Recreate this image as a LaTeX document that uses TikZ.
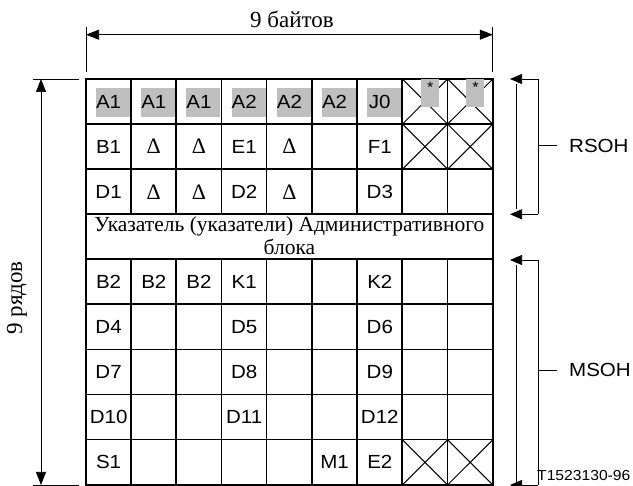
\documentclass[tikz,border=0pt]{standalone}
\usepackage{fontspec}
\setmainfont{Liberation Serif}
\setsansfont{Liberation Sans}[FakeStretch=1.08]
\usetikzlibrary{arrows.meta, positioning, calc}

\newcommand{\dlt}{{\rmfamily\fontsize{22}{22}\selectfont Δ}}

\begin{document}
\begin{tikzpicture}[x=1pt, y=-1pt,
    cell/.style={minimum width=45.2pt, minimum height=45.1pt, inner sep=0pt,
        font=\sffamily\fontsize{19}{19}\selectfont},
    rule/.style={line width=1.7pt},
    xline/.style={draw=black, line width=1pt},
    shade/.style={fill=black!25},
    dim/.style={line width=0.7pt, {Triangle[length=13pt,width=10pt]}-{Triangle[length=13pt,width=10pt]}},
    brk/.style={line width=0.7pt},
    tip/.style={line width=0.7pt, -{Triangle[length=12pt,width=10pt]}},
    serif/.style={font=\rmfamily\fontsize{23}{23}\selectfont, inner sep=0pt},
    side/.style={font=\sffamily\fontsize{19}{19}\selectfont, anchor=west, inner sep=0pt}]
    \useasboundingbox (0,0) rectangle (633,486);

    \foreach \c in {1,...,9}
        \foreach \r in {1,...,9}
            \coordinate (p\r-\c) at (86+45.2*\c-22.6, 79+45.1*\r-22.55);

    \foreach \c in {1,...,7}
        \fill[shade] ($(p1-\c)+(-12.6,-13.55)$) rectangle ++(34,29);

    \foreach \row [count=\r] in {
        {A1,A1,A1,A2,A2,A2,J0,{},{}},
        {B1,\dlt,\dlt,E1,\dlt,{},F1,{},{}},
        {D1,\dlt,\dlt,D2,\dlt,{},D3,{},{}},
        {{},{},{},{},{},{},{},{},{}},
        {B2,B2,B2,K1,{},{},K2,{},{}},
        {D4,{},{},D5,{},{},D6,{},{}},
        {D7,{},{},D8,{},{},D9,{},{}},
        {D10,{},{},D11,{},{},D12,{},{}},
        {S1,{},{},{},{},M1,E2,{},{}}}
        \foreach \t [count=\c] in \row
            \node[cell] (c\r-\c) at (p\r-\c) {\t};

    \draw[rule] (c1-1.north west) rectangle (c9-9.south east);
    \foreach \r in {2,...,9}
        \draw[rule] (c\r-1.north west) -- (c\r-9.north east);
    \foreach \c in {2,...,9} {
        \draw[rule] (c1-\c.north west) -- (c3-\c.south west);
        \draw[rule] (c5-\c.north west) -- (c9-\c.south west);
    }
    \node[serif, font=\rmfamily\fontsize{21.5}{23}\selectfont, align=center] (ptr)
        at ($(c4-1)!0.5!(c4-9)+(0,-1)$)
        {Указатель (указатели) Административного\\блока};

    \coordinate (bw) at (86,34.7);
    \coordinate (be) at (492.8,34.7);
    \draw[dim] (bw) -- (be);
    \draw[brk] (86,27) -- (86,72);
    \draw[brk] (492.8,27) -- (492.8,72);
    \node[serif] (bytes) at (292,19) {9 байтов};

    \coordinate (rt) at (41,79);
    \coordinate (rb) at (41,485);
    \draw[dim] (rt) -- (rb);
    \draw[brk] (33,79) -- (79,79);
    \draw[brk] (33,485) -- (79,485);
    \node[serif, rotate=90] (rows) at (17,298) {9 рядов};

    \coordinate (rs1) at (538,79);
    \coordinate (rs2) at (538,214.3);
    \coordinate (rs3) at (538,145.5);
    \draw[brk] (rs1) -- (rs2);
    \draw[tip] (rs1) -- (510,79);
    \draw[tip] (rs2) -- (510,214.3);
    \draw[brk] (516,84) -- (516,209);
    \node[side] (rsoh) at (569,145.5) {RSOH};
    \draw[brk] (rs3) -- (557,145.5);

    \coordinate (ms1) at (538,260);
    \coordinate (ms2) at (538,485);
    \coordinate (ms3) at (538,370);
    \draw[brk] (ms1) -- (ms2);
    \draw[tip] (ms1) -- (510,260);
    \draw[tip] (ms2) -- (510,485);
    \draw[brk] (516,265) -- (516,485);
    \node[side] (msoh) at (569,370) {MSOH};
    \draw[brk] (ms3) -- (557,370);

    \node[side, font=\sffamily\fontsize{14.5}{14.5}\selectfont] (code) at (537,476) {T1523130-96};

    \foreach \r in {1,2,9}
        \foreach \c in {8,9} {
            \draw[xline] (c\r-\c.north west) -- (c\r-\c.south east);
            \draw[xline] (c\r-\c.north east) -- (c\r-\c.south west);
        }
    \foreach \c in {8,9} {
        \fill[shade] ($(c1-\c.north west)+(19,0)$) rectangle ++(18,28);
        \node[font=\sffamily\fontsize{15}{15}\selectfont, inner sep=0pt] (star\c)
            at ($(c1-\c.north west)+(28,9)$) {*};
    }
\end{tikzpicture}
\end{document}
